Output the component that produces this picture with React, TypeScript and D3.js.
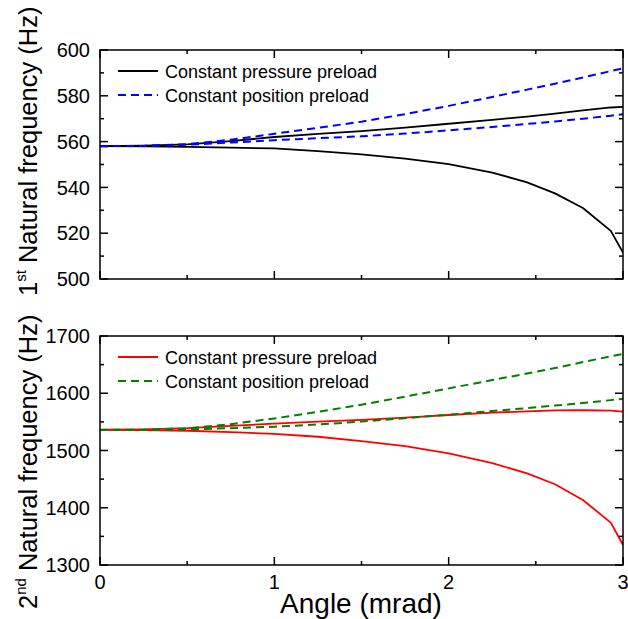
import React from "react";
import * as d3 from "d3";

const angles = [0, 0.25, 0.5, 0.75, 1.0, 1.25, 1.5, 1.75, 2.0, 2.25, 2.45, 2.61, 2.77, 2.93, 3.0];

// 1st natural frequency (Hz)
const f1PressureUpper = [558, 558.2, 558.8, 560.2, 562.0, 563.4, 564.6, 566.1, 567.8, 569.5, 570.9, 572.2, 573.6, 574.9, 575.2];
const f1PressureLower = [558, 557.9, 557.7, 557.4, 557.0, 555.8, 554.4, 552.6, 550.2, 546.5, 542.2, 537.4, 531, 521, 511.5];
const f1PositionUpper = [558, 558.1, 558.9, 560.8, 563.4, 566.0, 568.7, 572.0, 575.6, 579.5, 582.7, 585.3, 588, 590.8, 592];
const f1PositionLower = [558, 558.1, 558.6, 559.6, 560.6, 561.5, 562.3, 563.5, 564.9, 566.4, 567.7, 568.8, 570, 571.3, 572];

// 2nd natural frequency (Hz)
const f2PressureUpper = [1536.5, 1537, 1539, 1543, 1547, 1550.5, 1553.5, 1557.5, 1562, 1566, 1568.5, 1570, 1570.3, 1569.5, 1568];
const f2PressureLower = [1536, 1535.7, 1534.5, 1532, 1529, 1524, 1516.5, 1507.5, 1495, 1478, 1460, 1441, 1413.5, 1374, 1335];
const f2PositionUpper = [1536, 1536.3, 1538.5, 1546, 1556, 1567.5, 1580, 1594, 1608.5, 1623, 1634.5, 1644, 1654.5, 1664.5, 1668.6];
const f2PositionLower = [1536, 1536, 1537, 1539, 1541.5, 1545.5, 1550.5, 1556.5, 1562.5, 1569, 1574, 1578.5, 1583, 1588, 1590];

const xTicks = [0, 1, 2, 3];
const xMinor = [0.5, 1.5, 2.5];
const y1Ticks = [500, 520, 540, 560, 580, 600];
const y2Ticks = [1300, 1400, 1500, 1600, 1700];

const legendLabels = ["Constant pressure preload", "Constant position preload"];

const FONT = "'Liberation Sans', Arial, Helvetica, sans-serif";

const X0 = 100, X1 = 623;

type Series = { values: number[]; color: string; dash?: string; width: number };

function Panel({ top, bottom, domain, ticks, minorStep, series, legendColors, showXLabels }:
  { top: number; bottom: number; domain: [number, number]; ticks: number[]; minorStep: number;
    series: Series[]; legendColors: { color: string; dash?: string; width: number }[]; showXLabels: boolean }) {
  const x = d3.scaleLinear().domain([0, 3]).range([X0, X1]);
  const y = d3.scaleLinear().domain(domain).range([bottom, top]);
  const line = d3.line<number>().x((_, i) => x(angles[i])).y(v => y(v));
  const yMinor = d3.range(domain[0] + minorStep, domain[1], minorStep * 2);
  const maj = 8, mn = 4;
  return (
    <g>
      <defs>
        <clipPath id={`clip${top}`}>
          <rect x={X0} y={top - 2} width={X1 - X0} height={bottom - top + 4} />
        </clipPath>
      </defs>
      <g clipPath={`url(#clip${top})`}>
        {series.map((s, i) => (
          <path key={i} d={line(s.values) || ""} fill="none" stroke={s.color} strokeWidth={s.width}
            strokeDasharray={s.dash} strokeLinejoin="round" />
        ))}
      </g>
      <rect x={X0} y={top} width={X1 - X0} height={bottom - top} fill="none" stroke="#000" strokeWidth={1.5} />
      {xTicks.map(t => (
        <g key={"xt" + t}>
          <line x1={x(t)} x2={x(t)} y1={bottom} y2={bottom - maj} stroke="#000" strokeWidth={1.5} />
          <line x1={x(t)} x2={x(t)} y1={top} y2={top + maj} stroke="#000" strokeWidth={1.5} />
        </g>
      ))}
      {xMinor.map(t => (
        <g key={"xm" + t}>
          <line x1={x(t)} x2={x(t)} y1={bottom} y2={bottom - mn} stroke="#000" strokeWidth={1.5} />
          <line x1={x(t)} x2={x(t)} y1={top} y2={top + mn} stroke="#000" strokeWidth={1.5} />
        </g>
      ))}
      {ticks.map(t => (
        <g key={"yt" + t}>
          <line x1={X0} x2={X0 + maj} y1={y(t)} y2={y(t)} stroke="#000" strokeWidth={1.5} />
          <line x1={X1} x2={X1 - maj} y1={y(t)} y2={y(t)} stroke="#000" strokeWidth={1.5} />
          <text x={90} y={y(t)} dy="0.36em" textAnchor="end" fontSize={20} fontFamily={FONT} fill="#000">{t}</text>
        </g>
      ))}
      {yMinor.map(t => (
        <g key={"ym" + t}>
          <line x1={X0} x2={X0 + mn} y1={y(t)} y2={y(t)} stroke="#000" strokeWidth={1.5} />
          <line x1={X1} x2={X1 - mn} y1={y(t)} y2={y(t)} stroke="#000" strokeWidth={1.5} />
        </g>
      ))}
      {showXLabels && xTicks.map(t => (
        <text key={"xl" + t} x={x(t)} y={589} textAnchor="middle" fontSize={20} fontFamily={FONT} fill="#000">{t}</text>
      ))}
      {legendLabels.map((lab, i) => {
        const ly = top + 21 + i * 24;
        const lc = legendColors[i];
        return (
          <g key={"lg" + i}>
            <line x1={118} x2={158} y1={ly} y2={ly} stroke={lc.color} strokeWidth={lc.width} strokeDasharray={lc.dash} />
            <text x={165} y={ly + 7} fontSize={18} fontFamily={FONT} fill="#000">{lab}</text>
          </g>
        );
      })}
    </g>
  );
}

export default function App() {
  const blackS = { color: "#000", width: 1.8 };
  const blueS = { color: "#0000ff", width: 2, dash: "8,5" };
  const redS = { color: "#ff0000", width: 1.8 };
  const greenS = { color: "#008000", width: 2, dash: "8,5" };
  return (
    <svg width={628} height={619} style={{ position: "absolute", left: 0, top: 0, background: "#fff" }}>
      <rect x={0} y={0} width={628} height={619} fill="#fff" />
      <Panel top={50} bottom={279} domain={[500, 600]} ticks={y1Ticks} minorStep={10}
        series={[
          { values: f1PressureUpper, ...blackS },
          { values: f1PressureLower, ...blackS },
          { values: f1PositionUpper, ...blueS },
          { values: f1PositionLower, ...blueS },
        ]}
        legendColors={[blackS, blueS]} showXLabels={false} />
      <Panel top={336} bottom={565} domain={[1300, 1700]} ticks={y2Ticks} minorStep={50}
        series={[
          { values: f2PressureUpper, ...redS },
          { values: f2PressureLower, ...redS },
          { values: f2PositionUpper, ...greenS },
          { values: f2PositionLower, ...greenS },
        ]}
        legendColors={[redS, greenS]} showXLabels={true} />
      <text x={361} y={613} textAnchor="middle" fontSize={28} fontFamily={FONT} fill="#000">Angle (mrad)</text>
      <text transform="translate(37,296) rotate(-90)" textAnchor="start" fontSize={25.5} fontFamily={FONT} fill="#000">
        1<tspan fontSize={15} dy={-11}>st</tspan><tspan dy={11}> Natural frequency (Hz)</tspan>
      </text>
      <text transform="translate(37,609) rotate(-90)" textAnchor="start" fontSize={25.5} fontFamily={FONT} fill="#000">
        2<tspan fontSize={15} dy={-11}>nd</tspan><tspan dy={11}> Natural frequency (Hz)</tspan>
      </text>
    </svg>
  );
}
